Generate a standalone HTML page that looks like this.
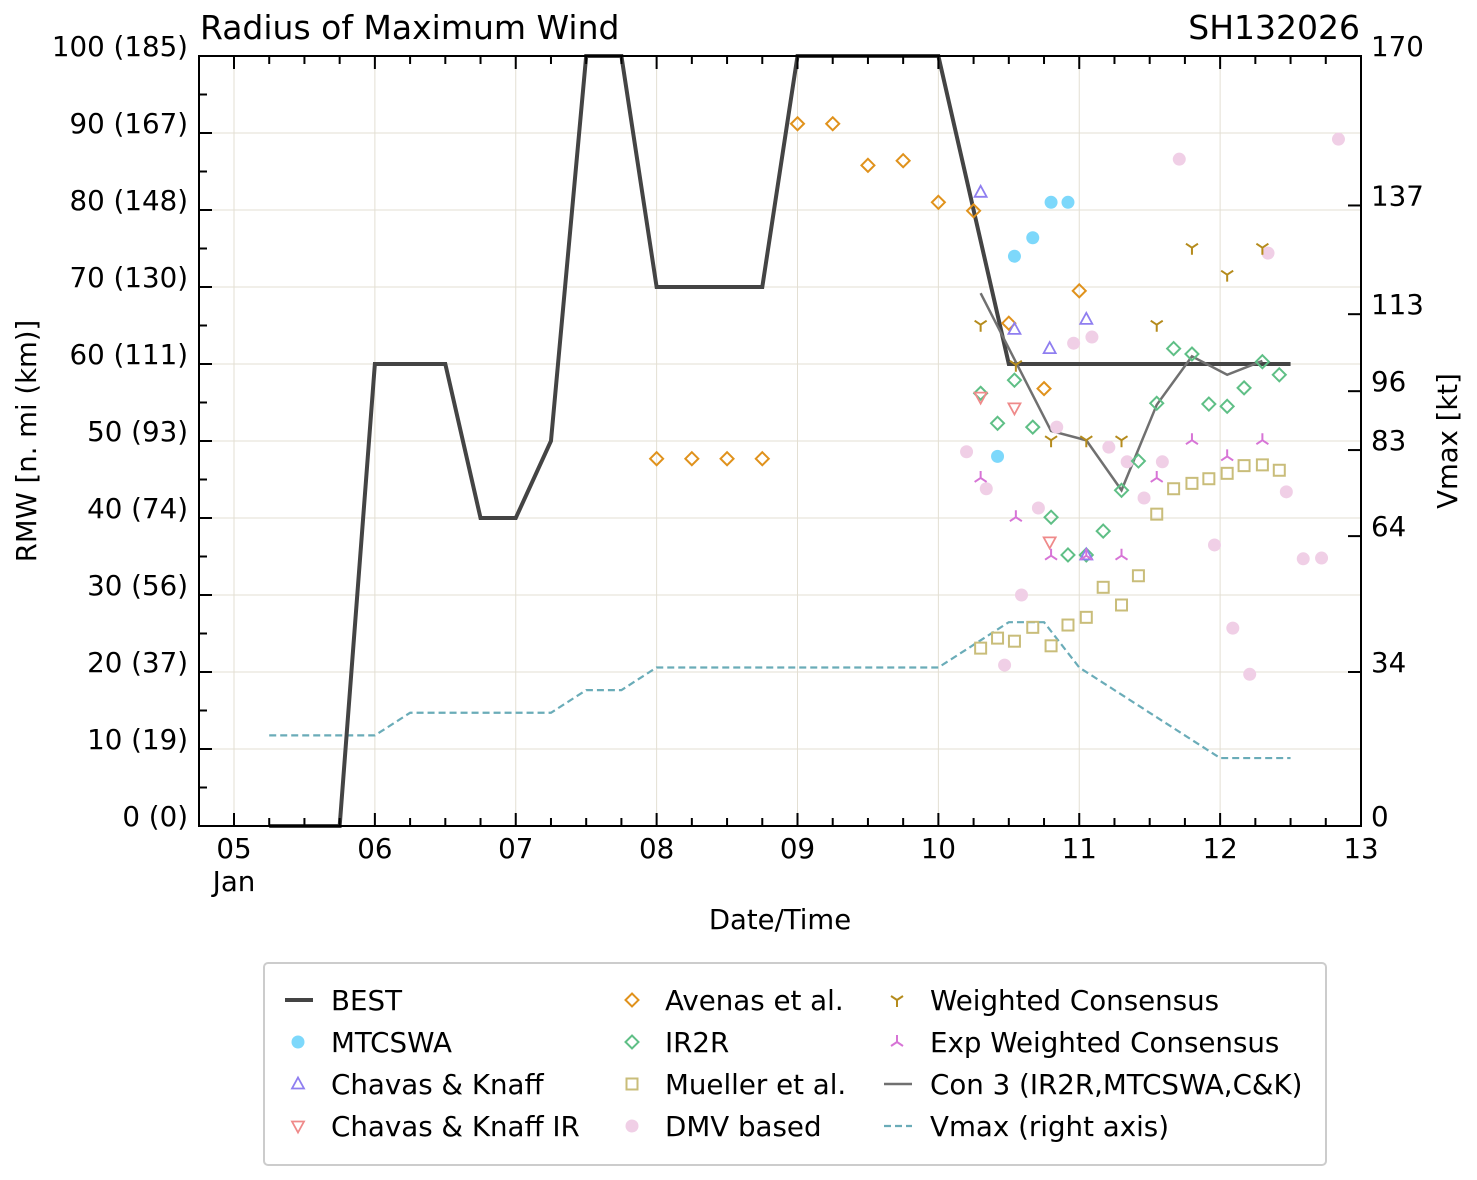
<!DOCTYPE html>
<html><head><meta charset="utf-8"><style>
html,body{margin:0;padding:0;background:#fff;}
svg{display:block;font-family:"DejaVu Sans","Liberation Sans",sans-serif;}
</style></head><body>
<svg id="chart" width="1477" height="1180" xmlns="http://www.w3.org/2000/svg">
<text x="200" y="39" font-size="33">Radius of Maximum Wind</text>
<text x="1360" y="39" font-size="33" text-anchor="end">SH132026</text>
<text transform="translate(36,441) rotate(-90)" font-size="27.5" text-anchor="middle">RMW [n. mi (km)]</text>
<text transform="translate(1457,441) rotate(-90)" font-size="27.5" text-anchor="middle">Vmax [kt]</text>
<text x="780" y="929" font-size="27.5" text-anchor="middle">Date/Time</text>
<g id="grid"></g><g id="series"></g><g id="axes"></g><g id="legend"></g>
</svg>
<script>
const bestT=[5.25,5.75,6,6.5,6.75,7,7.25,7.5,7.75,8,8.75,9,10,10.5,12.5];
const bestV=[0,0,60,60,40,40,50,100,100,70,70,100,100,60,60];
const vmaxT=[5.25,6,6.25,7.25,7.5,7.75,8,10,10.25,10.5,10.75,11,11.25,11.5,11.75,12,12.5];
const vmaxV=[20,20,25,25,30,30,35,35,40,45,45,35,30,25,20,15,15];
const avenasT=[8,8.25,8.5,8.75,9,9.25,9.5,9.75,10,10.25,10.5,10.75,11];
const avenasV=[47.7,47.7,47.7,47.7,91.2,91.2,85.8,86.4,81,79.9,65.3,56.8,69.5];
const mtcT=[10.42,10.54,10.67,10.8,10.92];
const mtcV=[48,74,76.4,81,81];
const ckT=[10.3,10.54,10.79,11.05,11.05];
const ckV=[82.3,64.5,62,65.8,35.2];
const ckirT=[10.3,10.54,10.79];
const ckirV=[55.7,54.3,36.9];
const ir2rT=[10.3,10.42,10.54,10.67,10.8,10.92,11.05,11.17,11.3,11.42,11.55,11.67,11.8,11.92,12.05,12.17,12.3,12.42];
const ir2rV=[56.2,52.3,57.9,51.8,40.1,35.2,35.2,38.3,43.6,47.4,54.9,62,61.3,54.8,54.5,56.9,60.3,58.6];
const muelT=ir2rT;
const muelV=[23.1,24.4,24,25.8,23.4,26.1,27.1,31,28.7,32.5,40.5,43.8,44.5,45.1,45.8,46.8,46.9,46.2];
const dmvT=[10.2,10.34,10.47,10.59,10.71,10.84,10.96,11.09,11.21,11.34,11.46,11.59,11.71,11.96,12.09,12.21,12.34,12.47,12.59,12.72,12.84];
const dmvV=[48.6,43.8,20.9,30,41.3,51.8,62.7,63.5,49.2,47.3,42.6,47.3,86.6,36.5,25.7,19.7,74.4,43.4,34.7,34.8,89.2];
const wcT=[10.3,10.55,10.8,11.05,11.3,11.55,11.8,12.05,12.3];
const wcV=[65.1,59.9,50.1,50.1,50.1,65.1,75.1,71.6,75.1];
const ewcT=wcT;
const ewcV=[45.2,40.1,35.1,35.1,35.1,45.2,50.1,48,50.1];
const con3T=[10.3,10.8,11.05,11.3,11.55,11.8,12.05,12.3];
const con3V=[69.2,51.3,50.1,43.6,54.7,61,58.6,60.4];
const leftTicks=[0,10,20,30,40,50,60,70,80,90,100];
const leftLabels=["0 (0)","10 (19)","20 (37)","30 (56)","40 (74)","50 (93)","60 (111)","70 (130)","80 (148)","90 (167)","100 (185)"];
const rightTicks=[0,34,64,83,96,113,137,170];
const dayTicks=[5,6,7,8,9,10,11,12,13];
const dayLabels=["05","06","07","08","09","10","11","12","13"];

const NS="http://www.w3.org/2000/svg";
const X0=199,X1=1361,Y0=56,Y1=826;
const FS=27.7;
const xs=t=>234+(t-5)*140.875;
const ys=v=>826-v*7.7;
const yr=v=>826-v*770/170;
function mk(tag,attrs,parent){const e=document.createElementNS(NS,tag);for(const k in attrs)e.setAttribute(k,attrs[k]);parent.appendChild(e);return e;}
const grid=document.getElementById('grid'),ser=document.getElementById('series'),ax=document.getElementById('axes'),leg=document.getElementById('legend');
const GC="#e3dfd3";
dayTicks.forEach(d=>{const l=mk('line',{x1:xs(d),x2:xs(d),y1:Y0,y2:Y1,stroke:GC,'stroke-width':1},grid);

});
leftTicks.forEach(v=>{const l=mk('line',{x1:X0,x2:X1,y1:ys(v),y2:ys(v),stroke:GC,'stroke-width':1},grid);

});

function line(T,V,sc,attrs,name){const p=T.map((t,i)=>xs(t)+','+sc(V[i])).join(' ');const e=mk('polyline',Object.assign({points:p,fill:'none'},attrs),ser);

}
line(vmaxT,vmaxV,yr,{stroke:'#6aacb8','stroke-width':2.2,'stroke-dasharray':'7,4'},'vmax-line');
line(bestT,bestV,ys,{stroke:'#444','stroke-width':4},'best-line');
line(con3T,con3V,ys,{stroke:'#707070','stroke-width':2.5},'con3-line');

function marker(type,x,y,g){
 if(type==='circle')return mk('circle',{cx:x,cy:y,r:6.5,fill:g},ser);
 if(type==='diamond')return mk('polygon',{points:`${x},${y-6.5} ${x+6.5},${y} ${x},${y+6.5} ${x-6.5},${y}`,fill:'none',stroke:g,'stroke-width':2},ser);
 if(type==='up')return mk('polygon',{points:`${x},${y-6.5} ${x+6},${y+4.5} ${x-6},${y+4.5}`,fill:'none',stroke:g,'stroke-width':1.8},ser);
 if(type==='down')return mk('polygon',{points:`${x},${y+6.5} ${x+6},${y-4.5} ${x-6},${y-4.5}`,fill:'none',stroke:g,'stroke-width':1.8},ser);
 if(type==='square')return mk('rect',{x:x-5.5,y:y-5.5,width:11,height:11,fill:'none',stroke:g,'stroke-width':2},ser);
 if(type==='tridown')return mk('path',{d:`M${x},${y} L${x},${y+7} M${x},${y} L${x-6},${y-4} M${x},${y} L${x+6},${y-4}`,stroke:g,'stroke-width':2,fill:'none'},ser);
 if(type==='triup')return mk('path',{d:`M${x},${y} L${x},${y-7} M${x},${y} L${x-6},${y+4} M${x},${y} L${x+6},${y+4}`,stroke:g,'stroke-width':2,fill:'none'},ser);
}
function scatter(T,V,type,col,name){T.forEach((t,i)=>{const e=marker(type,xs(t),ys(V[i]),col);

});}
scatter(dmvT,dmvV,'circle','#f0cfe6','dmv-point');
scatter(muelT,muelV,'square','#c9bd7a','mueller-point');
scatter(ir2rT,ir2rV,'diamond','#5fbf86','ir2r-point');
scatter(avenasT,avenasV,'diamond','#e0921c','avenas-point');
scatter(mtcT,mtcV,'circle','#7dd8fb','mtcswa-point');
scatter(ckT,ckV,'up','#8f7ef0','chavas-knaff-point');
scatter(ckirT,ckirV,'down','#ef8a8a','chavas-knaff-ir-point');
scatter(wcT,wcV,'tridown','#b58b1c','weighted-consensus-point');
scatter(ewcT,ewcV,'triup','#d774d6','exp-weighted-consensus-point');

const fr=mk('rect',{x:X0,y:Y0,width:X1-X0,height:Y1-Y0,fill:'none',stroke:'#000','stroke-width':2},ax);


for(let v=0;v<=100;v+=5){const maj=v%10===0;const l=mk('line',{x1:X0,x2:X0+(maj?13:8),y1:ys(v),y2:ys(v),stroke:'#000','stroke-width':2},ax);

}
leftTicks.forEach((v,i)=>{const t=mk('text',{x:188,y:ys(v)-0,'font-size':FS,'text-anchor':'end'},ax);t.textContent=leftLabels[i];

});
rightTicks.forEach(v=>{const l=mk('line',{x1:X1-13,x2:X1,y1:yr(v),y2:yr(v),stroke:'#000','stroke-width':2},ax);


const t=mk('text',{x:1371,y:yr(v)-0,'font-size':FS},ax);t.textContent=String(v);

});
for(let d=5;d<=13;d+=0.25){const maj=Math.abs(d-Math.round(d))<1e-6;const x=xs(d);if(x<X0||x>X1)continue;
const a=mk('line',{x1:x,x2:x,y1:Y1,y2:Y1-(maj?13:8),stroke:'#000','stroke-width':2},ax);


const b=mk('line',{x1:x,x2:x,y1:Y0,y2:Y0+(maj?13:8),stroke:'#000','stroke-width':2},ax);

}
dayTicks.forEach((d,i)=>{const t=mk('text',{x:xs(d),y:858,'font-size':FS,'text-anchor':'middle'},ax);t.textContent=dayLabels[i];

});
const jan=mk('text',{x:xs(5),y:891,'font-size':FS,'text-anchor':'middle'},ax);jan.textContent='Jan';



const lb=mk('rect',{x:264,y:963,width:1062,height:202,rx:4,fill:'#fff',stroke:'#ccc','stroke-width':2},leg);


const entries=[
 ['BEST','line',298,1000,'#444'],['MTCSWA','circle',298,1042,'#7dd8fb'],['Chavas & Knaff','up',298,1084,'#8f7ef0'],['Chavas & Knaff IR','down',298,1126,'#ef8a8a'],
 ['Avenas et al.','diamond',632,1000,'#e0921c'],['IR2R','diamond',632,1042,'#5fbf86'],['Mueller et al.','square',632,1084,'#c9bd7a'],['DMV based','circle',632,1126,'#f0cfe6'],
 ['Weighted Consensus','tridown',897,1000,'#b58b1c'],['Exp Weighted Consensus','triup',897,1042,'#d774d6'],['Con 3 (IR2R,MTCSWA,C&K)','gline',897,1084,'#707070'],['Vmax (right axis)','dash',897,1126,'#6aacb8']];
entries.forEach(([lab,type,x,y,c])=>{let m;
 if(type==='line')m=mk('line',{x1:x-13,x2:x+15,y1:y,y2:y,stroke:c,'stroke-width':4},leg);
 else if(type==='gline')m=mk('line',{x1:x-13,x2:x+15,y1:y,y2:y,stroke:c,'stroke-width':2.5},leg);
 else if(type==='dash')m=mk('line',{x1:x-13,x2:x+15,y1:y,y2:y,stroke:c,'stroke-width':2.2,'stroke-dasharray':'7,4'},leg);
 else {m=marker(type,x,y,c);leg.appendChild(m);}
 
 
 const t=mk('text',{x:x+33,y:y+10,'font-size':FS},leg);t.textContent=lab;
 
 });
</script>
</body></html>
